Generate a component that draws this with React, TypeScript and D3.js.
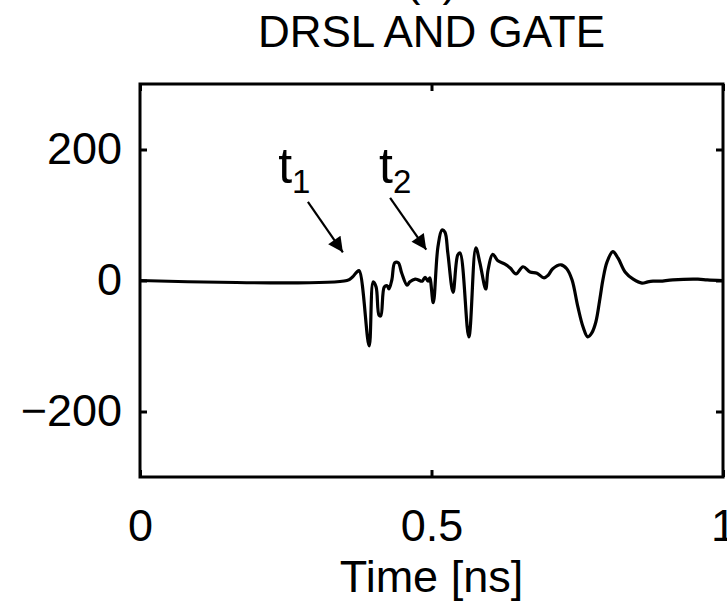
import * as d3 from 'd3';
import { useEffect, useRef } from 'react';

// signal (time in ns, amplitude)
const timeNs = [
    0, 0.355, 0.364, 0.372, 0.376, 0.393, 0.4, 0.405, 0.41, 0.413, 0.419,
    0.424, 0.427, 0.432, 0.437, 0.443, 0.449, 0.458, 0.463, 0.472, 0.477,
    0.484, 0.489, 0.494, 0.497, 0.503, 0.511, 0.518, 0.523, 0.528, 0.537,
    0.545, 0.549, 0.564, 0.576, 0.583, 0.593, 0.597, 0.605, 0.614, 0.626,
    0.635, 0.645, 0.657, 0.669, 0.681, 0.693, 0.7, 0.708, 0.722, 0.732,
    0.741, 0.751, 0.76, 0.768, 0.775, 0.782, 0.789, 0.794, 0.801, 0.811,
    0.82, 0.832, 0.846, 0.861, 0.871, 0.88, 0.892, 0.914, 0.957, 0.973, 1,
];
const amplitude = [
    0, 0, 5, 13, 15, -100, -2, -10, -53, -54, -10,
    -8, -13, 1, 27, 27, 11, -7, -2, 2, 1,
    -1, 5, -1, 4, -34, 51, 77, 74, 42, -18,
    39, 42, -86, 50, 27, -13, 16, 40, 30, 25,
    19, 10, 21, 13, 11, 4, 8, 18, 24, 18,
    1, -40, -71, -86, -80, -63, -27, 1, 28, 44,
    34, 13, 2, -4, -2, -1, -1, 1, 2, 1, 0,
];

const xTicks = [0, 0.5, 1];
const yTicks = [-200, 0, 200];
const xDomain = [0, 1];
const yDomain = [-300, 300];

const panelLabel = '(c)';
const title = 'DRSL AND GATE';
const xLabel = 'Time [ns]';

// annotation labels with arrows: [label, subscript, textT, textV, fromT, fromV, toT, toV]
const notes = [
    ['t', '1', 0.237, 149, 0.288, 120, 0.348, 43],
    ['t', '2', 0.41, 149, 0.429, 126, 0.491, 47],
];

const App = () => {
    const svgRef = useRef(null);

    useEffect(() => {
        const w = 727;
        const h = 605;
        const left = 140;
        const right = 723;
        const top = 84;
        const bottom = 477;
        const font = '"Liberation Sans", Arial, sans-serif';
        const fs = 45;

        d3.select(svgRef.current).selectAll('*').remove();
        const svg = d3
            .select(svgRef.current)
            .attr('width', w)
            .attr('height', h)
            .style('font-family', font);

        const x = d3.scaleLinear().domain(xDomain).range([left, right]);
        const y = d3.scaleLinear().domain(yDomain).range([bottom, top]);

        const data = timeNs.map((t, i) => [t, amplitude[i]]);

        const line = d3
            .line()
            .x((d) => x(d[0]))
            .y((d) => y(d[1]))
            .curve(d3.curveCatmullRom.alpha(0.5));

        svg.append('path')
            .attr('d', line(data))
            .attr('fill', 'none')
            .attr('stroke', '#000')
            .attr('stroke-width', 3.2)
            .attr('stroke-linejoin', 'round');

        const fmt = (d) => d3.format('')(d);
        const styleAxis = (g) => {
            g.select('.domain').remove();
            g.selectAll('line').attr('stroke', '#000').attr('stroke-width', 3);
            g.selectAll('text')
                .attr('fill', '#000')
                .style('font-size', `${fs}px`)
                .style('font-family', font);
        };

        svg.append('g')
            .attr('transform', `translate(0,${bottom})`)
            .call(d3.axisBottom(x).tickValues(xTicks).tickSize(-7).tickPadding(32).tickFormat(fmt))
            .call(styleAxis);
        svg.append('g')
            .attr('transform', `translate(0,${top})`)
            .call(d3.axisTop(x).tickValues(xTicks).tickSize(-7).tickFormat(() => ''))
            .call(styleAxis);
        svg.append('g')
            .attr('transform', `translate(${left},0)`)
            .call(d3.axisLeft(y).tickValues(yTicks).tickSize(-7).tickPadding(18).tickFormat(fmt))
            .call(styleAxis);
        svg.append('g')
            .attr('transform', `translate(${right},0)`)
            .call(d3.axisRight(y).tickValues(yTicks).tickSize(-7).tickFormat(() => ''))
            .call(styleAxis);

        svg.append('rect')
            .attr('x', left)
            .attr('y', top)
            .attr('width', right - left)
            .attr('height', bottom - top)
            .attr('fill', 'none')
            .attr('stroke', '#000')
            .attr('stroke-width', 3);

        const cx = (left + right) / 2;
        svg.append('text')
            .attr('x', cx)
            .attr('y', -4)
            .attr('text-anchor', 'middle')
            .style('font-size', `${fs - 1}px`)
            .text(panelLabel);
        svg.append('text')
            .attr('x', cx)
            .attr('y', 47)
            .attr('text-anchor', 'middle')
            .style('font-size', `${fs - 1}px`)
            .text(title);
        svg.append('text')
            .attr('x', cx)
            .attr('y', 592)
            .attr('text-anchor', 'middle')
            .style('font-size', `${fs}px`)
            .text(xLabel);

        svg.append('defs')
            .append('marker')
            .attr('id', 'head')
            .attr('viewBox', '0 0 10 10')
            .attr('refX', 10)
            .attr('refY', 5)
            .attr('markerUnits', 'userSpaceOnUse')
            .attr('markerWidth', 18)
            .attr('markerHeight', 15)
            .attr('orient', 'auto')
            .append('path')
            .attr('d', 'M0,0 L10,5 L0,10 Z')
            .attr('fill', '#000');

        notes.forEach((n) => {
            const [lab, sub, tt, tv, ft, fv, et, ev] = n;
            const t = svg.append('text')
                .attr('x', x(tt))
                .attr('y', y(tv))
                .style('font-size', `${fs + 5}px`);
            t.append('tspan').text(lab);
            t.append('tspan')
                .attr('dy', 10)
                .style('font-size', `${fs - 12}px`)
                .text(sub);
            svg.append('line')
                .attr('x1', x(ft))
                .attr('y1', y(fv))
                .attr('x2', x(et))
                .attr('y2', y(ev))
                .attr('stroke', '#000')
                .attr('stroke-width', 2.2)
                .attr('marker-end', 'url(#head)');
        });
    }, []);

    return (
        <svg
            ref={svgRef}
            style={{ position: 'absolute', left: 0, top: 0, background: '#fff' }}
        ></svg>
    );
};

export default App;
